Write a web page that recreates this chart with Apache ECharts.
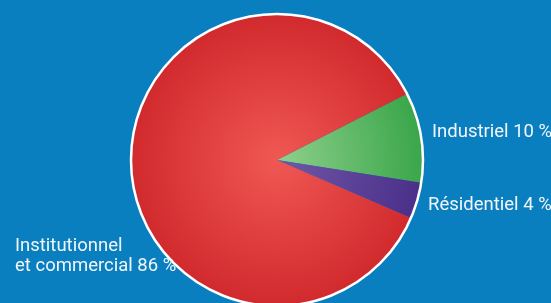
<!DOCTYPE html>
<html>
<head>
<meta charset="utf-8">
<script src="https://cdn.jsdelivr.net/npm/echarts@6/dist/echarts.min.js"></script>
<style>
  html, body { margin: 0; padding: 0; background: #0a7fc0; }
  #chart { width: 551px; height: 303px; }
</style>
</head>
<body>
<div id="chart"></div>
<script>
const categories = ['Industriel', 'Résidentiel', 'Institutionnel\net commercial'];
const shares     = [10, 4, 86];

// light (centre) -> dark (rim) for each slice
const sliceColors = [
    ['#8fd08c', '#3aa64a'],
    ['#7058a6', '#4b2f8a'],
    ['#f05853', '#d12a2e'],
];

// where each label sits (left edge, middle of first line)
const labelSpots = [
    { x: 432, y: 132 },
    { x: 428, y: 205 },
    { x: 15,  y: 256 },
];

const CX = 277, CY = 160, R = 146;

const chart = echarts.init(document.getElementById('chart'));

function shade(pair) {
    return {
        type: 'radial', x: CX, y: CY, r: R, global: true,
        colorStops: [
            { offset: 0, color: pair[0] },
            { offset: 1, color: pair[1] },
        ],
    };
}

chart.setOption({
    backgroundColor: '#0a7fc0',
    animation: false,
    series: [
        {
            type: 'pie',
            center: [CX, CY],
            radius: [0, R],
            startAngle: 27,
            clockwise: true,
            avoidLabelOverlap: false,
            silent: true,
            itemStyle: { borderWidth: 0 },
            label: {
                show: true,
                position: 'outside',
                formatter: '{b} {c} %',
                color: '#f2f6fa',
                fontFamily: 'Roboto, sans-serif',
                fontSize: 18.5,
                lineHeight: 20,
                overflow: 'none',
            },
            labelLine: { show: false },
            labelLayout: p => ({
                x: labelSpots[p.dataIndex].x,
                y: labelSpots[p.dataIndex].y,
                align: 'left',
                verticalAlign: 'middle',
            }),
            data: categories.map((name, i) => ({
                name,
                value: shares[i],
                itemStyle: { color: shade(sliceColors[i]) },
            })),
        },
        {
            // white rim round the whole pie
            type: 'pie',
            center: [CX, CY],
            radius: [0, R],
            silent: true,
            label: { show: false },
            labelLine: { show: false },
            itemStyle: { color: 'transparent', borderColor: '#ffffff', borderWidth: 2.5 },
            data: [{ value: 1, name: '' }],
        },
    ],
});
</script>
</body>
</html>
